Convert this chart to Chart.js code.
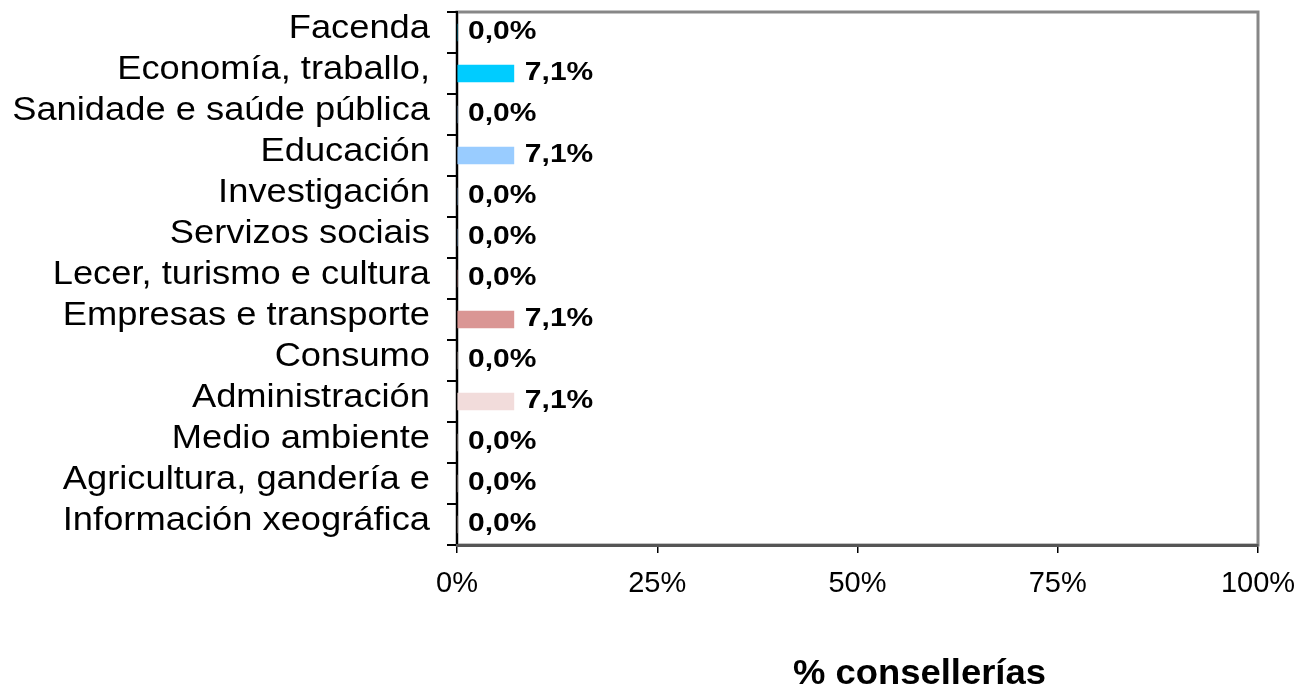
<!DOCTYPE html>
<html>
<head>
<meta charset="utf-8">
<script src="https://cdn.jsdelivr.net/npm/chart.js@4.4.1/dist/chart.umd.min.js"></script>
<style>
  body { margin: 0; background: #fff; }
  #wrap { width: 1301px; height: 689px; }
</style>
</head>
<body>
<div id="wrap"><canvas id="chart" width="1301" height="689"></canvas></div>
<script>
const categories = [
    'Facenda', 'Economía, traballo,', 'Sanidade e saúde pública', 'Educación',
    'Investigación', 'Servizos sociais', 'Lecer, turismo e cultura',
    'Empresas e transporte', 'Consumo', 'Administración', 'Medio ambiente',
    'Agricultura, gandería e', 'Información xeográfica'
];
const shares = [0, 7.1, 0, 7.1, 0, 0, 0, 7.1, 0, 7.1, 0, 0, 0];
const barColors = [
    '#00ccff', '#00ccff', '#99ccff', '#99ccff', '#99ccff', '#99ccff', '#da9694',
    '#da9694', '#f2dcdb', '#f2dcdb', '#f2dcdb', '#f2dcdb', '#f2dcdb'
];
const axisTitle = '% consellerías';
const fontFamily = '"Liberation Sans", Arial, sans-serif';

// gray frame on top/right of the plot area
const framePlugin = {
    id: 'frame',
    beforeDraw: (chart) => {
        const {ctx, chartArea: a} = chart;
        ctx.save();
        ctx.strokeStyle = '#878787';
        ctx.lineWidth = 3;
        ctx.strokeRect(a.left, a.top, a.right - a.left, a.bottom - a.top);
        ctx.restore();
    }
};

// category names, drawn a bit wider than the plain font (like the original)
const categoryLabels = {
    id: 'categoryLabels',
    afterDraw: (chart) => {
        const ctx = chart.ctx;
        const yScale = chart.scales.y;
        ctx.save();
        ctx.fillStyle = '#000';
        ctx.font = '33px ' + fontFamily;
        ctx.textAlign = 'right';
        ctx.textBaseline = 'middle';
        categories.forEach((name, i) => {
            ctx.save();
            ctx.translate(yScale.right - 27, yScale.getPixelForTick(i) - 4);
            ctx.scale(1.1, 1);
            ctx.fillText(name, 0, 0);
            ctx.restore();
        });
        ctx.restore();
    }
};

// value labels after each bar
const valueLabels = {
    id: 'valueLabels',
    afterDatasetsDraw: (chart) => {
        const ctx = chart.ctx;
        const meta = chart.getDatasetMeta(0);
        ctx.save();
        ctx.fillStyle = '#000';
        ctx.font = 'bold 25px ' + fontFamily;
        ctx.textAlign = 'left';
        ctx.textBaseline = 'middle';
        meta.data.forEach((bar, i) => {
            const txt = shares[i].toFixed(1).replace('.', ',') + '%';
            ctx.save();
            ctx.translate(bar.x + 11, bar.y);
            ctx.scale(1.2, 1);
            ctx.fillText(txt, 0, 0);
            ctx.restore();
        });
        ctx.restore();
    }
};

const axisTitlePlugin = {
    id: 'axisTitle',
    afterDraw: (chart) => {
        const {ctx, chartArea: a} = chart;
        ctx.save();
        ctx.fillStyle = '#000';
        ctx.font = 'bold 35px ' + fontFamily;
        ctx.textAlign = 'center';
        ctx.textBaseline = 'alphabetic';
        ctx.translate((a.left + a.right) / 2 + 62, 684);
        ctx.scale(1.04, 1);
        ctx.fillText(axisTitle, 0, 0);
        ctx.restore();
    }
};

new Chart(document.querySelector('#chart'), {
    type: 'bar',
    data: {
        labels: categories,
        datasets: [{
            data: shares,
            backgroundColor: barColors,
            barThickness: 17,
            borderWidth: 0
        }]
    },
    options: {
        indexAxis: 'y',
        responsive: false,
        animation: false,
        layout: { padding: { top: 12, right: 43, bottom: 0, left: 0 } },
        plugins: {
            legend: { display: false },
            tooltip: { enabled: false }
        },
        scales: {
            y: {
                grid: { drawOnChartArea: false, tickLength: 10, color: '#000', lineWidth: 2 },
                border: { color: '#000', width: 2 },
                ticks: { display: false, autoSkip: false },
                afterFit: (s) => {
                    s.width = 457;
                    s.paddingTop = 0;
                    s.paddingBottom = 0;
                }
            },
            x: {
                min: 0,
                max: 100,
                ticks: {
                    stepSize: 25,
                    color: '#000',
                    font: { family: fontFamily, size: 29 },
                    padding: 14,
                    callback: (v) => v + '%'
                },
                grid: { drawOnChartArea: false, tickLength: 8, color: '#000', lineWidth: 1.5 },
                border: { color: '#555', width: 3 },
                afterFit: (s) => {
                    s.height = 144;
                    s.paddingLeft = 0;
                    s.paddingRight = 0;
                }
            }
        }
    },
    plugins: [framePlugin, categoryLabels, valueLabels, axisTitlePlugin]
});
</script>
</body>
</html>
